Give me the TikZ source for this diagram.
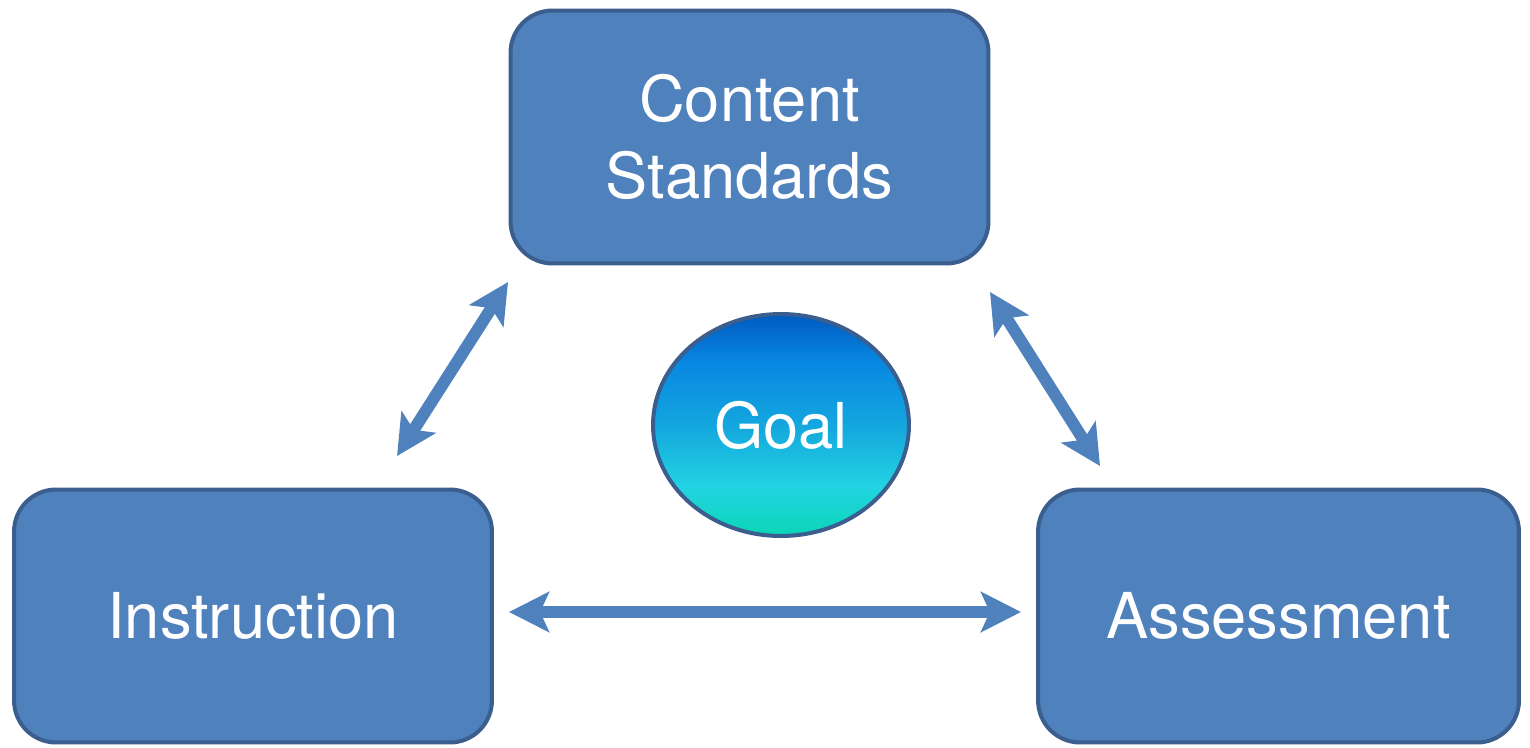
\documentclass[tikz,border=0pt]{standalone}
\usepackage{fontspec}
\setmainfont{TeX Gyre Heros}
\usetikzlibrary{arrows.meta,shapes.geometric}

\definecolor{boxblue}{HTML}{4F81BD}
\definecolor{boxline}{HTML}{3B5E8E}
\definecolor{goaltop}{HTML}{005ABF}
\definecolor{goalup}{HTML}{0888E2}
\definecolor{goalmid}{HTML}{14A6DE}
\definecolor{goalband}{HTML}{22D4E2}
\definecolor{goalbot}{HTML}{0BD5B6}
\pgfdeclareverticalshading{goalshade}{100bp}{color(0bp)=(goalbot); color(25bp)=(goalbot);
  color(36bp)=(goalband); color(50bp)=(goalmid); color(64bp)=(goalup); color(75bp)=(goaltop);
  color(100bp)=(goaltop)}

\tikzset{
  bigtext/.style={font=\fontsize{36}{43.7}\selectfont, text=white},
  stdbox/.style={bigtext, draw=boxline, fill=boxblue, line width=0.08cm, rounded corners=0.84cm,
    minimum width=9.56cm, minimum height=5.06cm, align=center, inner sep=0pt},
  goalnode/.style={bigtext, ellipse, draw=boxline, line width=0.08cm, shading=goalshade,
    minimum width=5.12cm, minimum height=4.44cm, inner sep=0pt},
  link/.style={draw=boxblue, line width=0.24cm,
    {Stealth[length=0.8cm,width=0.8cm,inset=0.18cm]}-{Stealth[length=0.8cm,width=0.8cm,inset=0.18cm]}}
}

\begin{document}
\begin{tikzpicture}[x=0.02cm, y=-0.02cm]
	\useasboundingbox (0,0) rectangle (1530,747);

	%Boxes
	\node[stdbox] (content) at (749.5,137) {Content\\Standards};
	\node[stdbox] (instr) at (253,616) {Instruction};
	\node[stdbox, minimum width=9.62cm] (assess) at (1278.5,616) {Assessment};

	%Goal
	\node[goalnode] (goal) at (781,425) {Goal};

	%Arrow ends
	\coordinate (ic-a) at (397,456);
	\coordinate (ic-b) at (508,282);
	\coordinate (ca-a) at (990,292);
	\coordinate (ca-b) at (1100,466);
	\coordinate (ia-a) at (509,612);
	\coordinate (ia-b) at (1021,612);

	%Arrows
	\draw[link] (ic-a) -- (ic-b);
	\draw[link] (ca-a) -- (ca-b);
	\draw[link] (ia-a) -- (ia-b);

\end{tikzpicture}
\end{document}
